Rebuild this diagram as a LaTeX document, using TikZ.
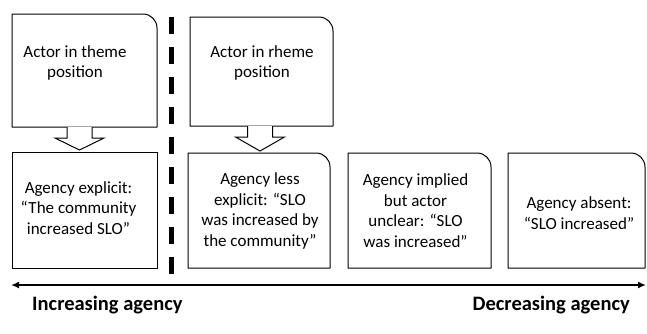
\documentclass[tikz,border=0pt]{standalone}
\usepackage{fontspec}
\setmainfont{Carlito}
\usepackage{tikz}
\usetikzlibrary{arrows.meta, calc}
\colorlet{colLinea}{black}
\colorlet{colTexto}{black}
\tikzset{
  cajaBase/.style={inner sep=0pt, outer sep=0pt},
  cajaRecta/.style={cajaBase, draw=colLinea, line width=1pt},
  borde/.style={draw=colLinea, line width=1pt, line join=round},
  textoCaja/.style={align=center, font=\fontsize{17}{20.5}\selectfont,
    text=colTexto, inner sep=0pt},
  textoEje/.style={font=\fontsize{20.5}{24}\selectfont\bfseries,
    text=colTexto, inner sep=0pt},
  hueca/.style={draw=colLinea, line width=1pt, fill=white},
  flechaEje/.style={{Latex[length=8pt,width=7pt]}-{Latex[length=8pt,width=7pt]},
    line width=2pt, colLinea},
  divisoria/.style={line width=5pt, dash pattern=on 17pt off 13pt, colLinea},
}
% box outline with the top right corner rounded
\newcommand{\contorno}[1]{%
  \draw[borde] ([xshift=-14pt]#1.north east) -- (#1.north west) -- (#1.south west)
    -- (#1.south east) -- ([yshift=-14pt]#1.north east)
    arc[start angle=0, end angle=90, radius=14pt];}
% hollow block arrow from one box down to the next
\newcommand{\flechaHueca}[3][0]{%
  \draw[hueca] let \p1=($(#2.south)+(#1,0)$), \p2=(#3.north) in
    (\x1-12.5,\y1) -- (\x1-12.5,\y1-11) -- (\x1-24.5,\y1-11) -- (\x1,\y2+2)
    -- (\x1+24.5,\y1-11) -- (\x1+12.5,\y1-11) -- (\x1+12.5,\y1);}

\begin{document}
\begin{tikzpicture}[x=1pt, y=-1pt]
  \useasboundingbox (0,0) rectangle (647,333);

  \node[cajaBase, minimum width=145pt, minimum height=113pt] (tema) at (84.5,70.5) {};
  \node[cajaBase, minimum width=143pt, minimum height=109pt] (rema) at (261.5,71.5) {};
  \node[cajaRecta, minimum width=145pt, minimum height=116pt] (explicita) at (84.5,210) {};
  \node[cajaBase, minimum width=142pt, minimum height=115pt] (menos) at (259,210.5) {};
  \node[cajaBase, minimum width=143pt, minimum height=115pt] (implicita) at (419.5,210.5) {};
  \node[cajaBase, minimum width=137pt, minimum height=115pt] (ausente) at (576.5,210.5) {};

  \contorno{tema}
  \contorno{rema}
  \contorno{menos}
  \contorno{implicita}
  \contorno{ausente}

  \node[textoCaja] (temaTxt) at ($(tema)+(-9.5,-7.5)$) {Actor in theme\\position};
  \node[textoCaja] (remaTxt) at ($(rema)+(0.5,-8.5)$) {Actor in rheme\\position};
  \node[textoCaja] (explicitaTxt) at ($(explicita)+(-6,-2)$)
    {Agency explicit:\\“The community\\increased SLO”};
  \node[textoCaja] (menosTxt) at ($(menos)+(1,0.5)$)
    {Agency less\\explicit: “SLO\\was increased by\\the community”};
  \node[textoCaja] (implicitaTxt) at ($(implicita)+(-4,0)$)
    {Agency implied\\but actor\\unclear: “SLO\\was increased”};
  \node[textoCaja] (ausenteTxt) at ($(ausente)+(2.5,2.5)$)
    {Agency absent:\\“SLO increased”};

  \flechaHueca[-5]{tema}{explicita}
  \flechaHueca[-1.5]{rema}{menos}

  \coordinate (divArriba) at (171,17);
  \coordinate (divAbajo) at (171,275);
  \draw[divisoria] (divArriba) -- (divAbajo);

  \coordinate (ejeIzq) at (11,285);
  \coordinate (ejeDer) at (646,285);
  \draw[flechaEje] (ejeIzq) -- (ejeDer);

  \node[textoEje, anchor=base west] (aumenta) at (32,310) {Increasing agency};
  \node[textoEje, anchor=base east] (disminuye) at (630,310) {Decreasing agency};
\end{tikzpicture}
\end{document}
